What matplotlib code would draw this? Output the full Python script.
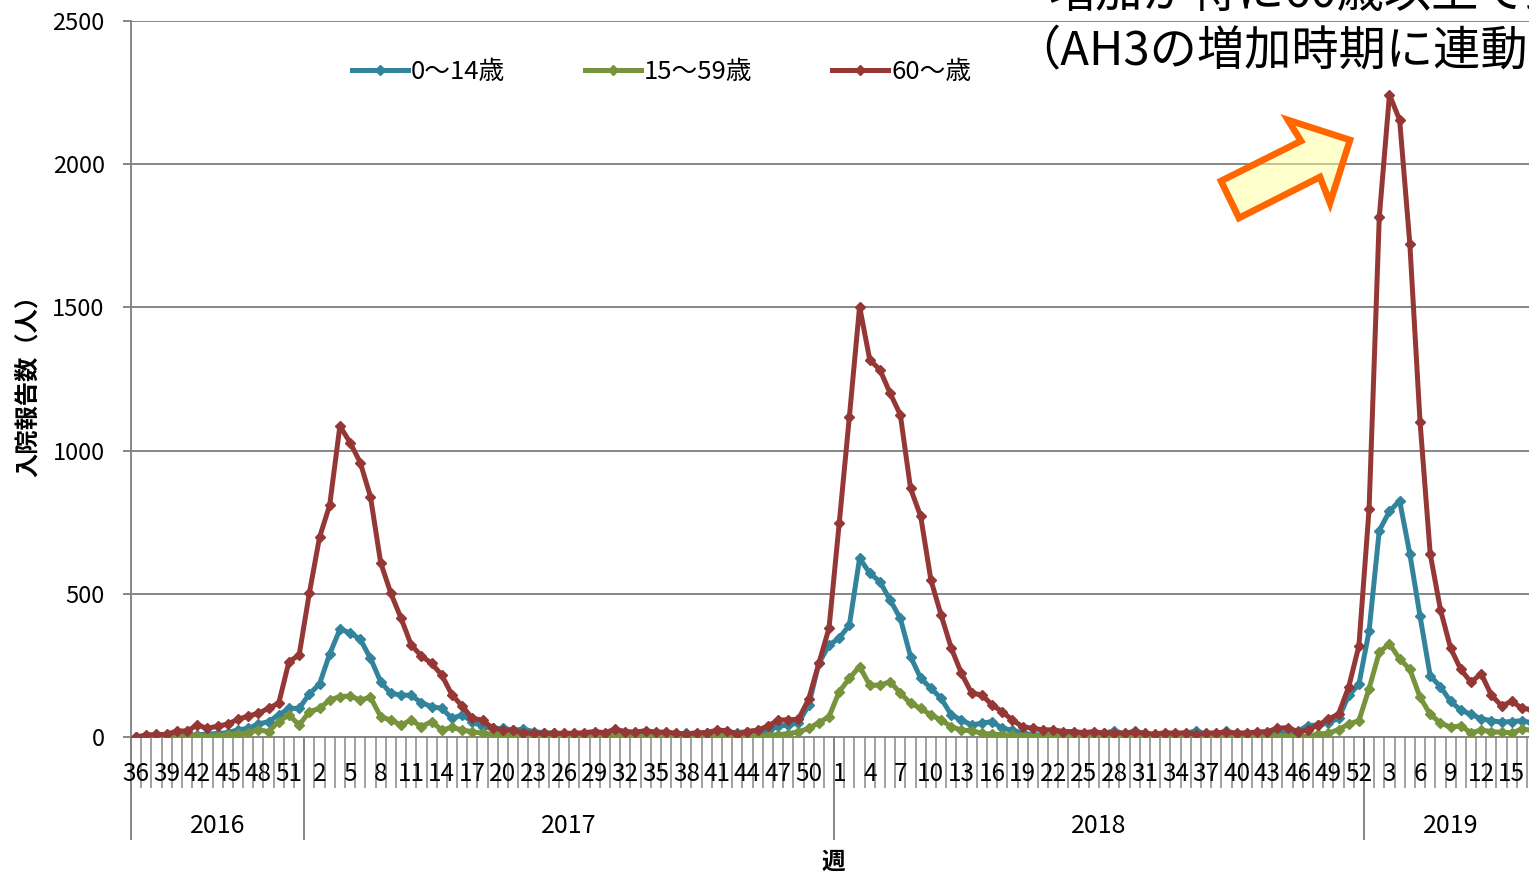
import matplotlib
matplotlib.use("Agg")
import matplotlib.pyplot as plt
from matplotlib.patches import Polygon

plt.rcParams['font.family'] = ['Noto Sans CJK JP', 'DejaVu Sans']

# weeks shown: 2016 wk36 .. 2019 wk17
YEARS = [2016, 2017, 2018, 2019]
WEEKS_2016 = list(range(36, 53))
WEEKS_2017 = list(range(1, 53))
WEEKS_2018 = list(range(1, 53))
WEEKS_2019 = list(range(1, 18))

# 0~14 years
age_0_14 = [
    0, 2, 3, 3, 5, 5, 8, 10, 12, 15, 25, 30, 45, 54, 77, 100, 100,
    150, 185, 290, 376, 364, 341, 275, 193, 152, 147,
    145, 120, 106, 100, 65, 77, 54, 36, 30, 30,
    24, 27, 19, 15, 13, 10, 12, 10, 13, 10,
    15, 12, 10, 13, 10, 12, 10, 13, 12, 15,
    13, 17, 15, 19, 22, 20, 38, 42, 50, 110,
    257, 321,
    345, 391, 624, 572, 542, 478, 414, 281, 205, 170,
    135, 77, 59, 42, 48, 54, 30, 24, 13, 8,
    7, 7, 10, 8, 10, 8, 13, 22, 10, 22,
    10, 8, 10, 8, 12, 22, 10, 12, 20, 12,
    10, 10, 12, 15, 15, 20, 40, 42, 50, 65,
    145, 184,
    370, 721, 788, 825, 639, 422, 213, 176, 124, 94, 79, 64, 57, 52, 54, 57, 49,
]

# 15~59 years
age_15_59 = [
    0, 0, 2, 0, 3, 2, 3, 5, 5, 8, 10, 15, 25, 19, 54, 77, 42,
    88, 100, 129, 141, 143, 129, 139, 71, 59, 42,
    59, 36, 54, 24, 34, 24, 19, 13, 10, 8,
    7, 6, 5, 5, 4, 5, 3, 5, 4, 3,
    5, 4, 3, 5, 4, 3, 5, 4, 3, 5,
    4, 5, 4, 6, 5, 5, 8, 12, 18, 30,
    50, 71,
    158, 205, 246, 181, 181, 193, 153, 118, 100, 77,
    59, 36, 24, 22, 13, 10, 8, 7, 5, 5,
    4, 3, 4, 3, 5, 3, 4, 3, 5, 3,
    4, 3, 5, 3, 4, 5, 3, 4, 3, 5,
    4, 3, 5, 4, 3, 3, 2, 10, 13, 26,
    45, 57,
    169, 296, 325, 273, 236, 139, 79, 49, 34, 39, 15, 24, 19, 16, 15, 27, 24,
]

# 60~ years
age_60_up = [
    0, 7, 9, 9, 21, 21, 42, 30, 38, 45, 62, 73, 83, 100, 118, 263, 286,
    502, 697, 810, 1086, 1028, 958, 839, 609, 502, 415,
    321, 283, 257, 216, 147, 108, 65, 59, 30, 24,
    24, 15, 13, 13, 13, 13, 13, 15, 19, 15,
    27, 19, 17, 22, 17, 17, 13, 10, 15, 15,
    24, 22, 10, 19, 24, 38, 59, 60, 62, 132,
    257, 380,
    746, 1119, 1503, 1317, 1282, 1200, 1125, 868, 770, 548,
    426, 310, 222, 153, 147, 112, 88, 59, 36, 30,
    25, 25, 19, 19, 15, 19, 13, 15, 13, 17,
    13, 10, 15, 13, 15, 10, 13, 15, 17, 13,
    15, 17, 19, 30, 33, 19, 24, 42, 62, 80,
    175, 318,
    796, 1815, 2243, 2154, 1721, 1101, 639, 445, 310, 236, 191, 221, 146, 109, 124, 101, 95,
]

SERIES_LABELS = ['0〜14歳', '15〜59歳', '60〜歳']
SERIES_COLORS = ['#31849B', '#77933C', '#953735']
GRAY = '#868686'

W, H = 1529, 875
fig = plt.figure(figsize=(W / 100, H / 100), dpi=100)
fig.patch.set_facecolor('white')

weeks = WEEKS_2016 + WEEKS_2017 + WEEKS_2018 + WEEKS_2019
year_sizes = [len(WEEKS_2016), len(WEEKS_2017), len(WEEKS_2018), len(WEEKS_2019)]
n = len(weeks)
x = list(range(n))

# axes runs a little past the right edge of the picture (cropped slide)
cat_px = 10.19
ax_left, ax_top, ax_bottom = 131, 21, 737
ax = fig.add_axes([ax_left / W, (H - ax_bottom) / H,
                   n * cat_px / W, (ax_bottom - ax_top) / H])
ax.patch.set_visible(False)

for vals, lab, col in zip([age_0_14, age_15_59, age_60_up], SERIES_LABELS, SERIES_COLORS):
    ax.plot(x, vals, color=col, lw=3.6, marker='D', ms=4.8, mec=col, mfc=col,
            label=lab, solid_joinstyle='round', zorder=3)

ax.set_xlim(-0.5, n - 0.5)
ax.set_ylim(0, 2500)
ax.set_yticks(range(0, 2501, 500))
ax.yaxis.grid(True, color=GRAY, lw=1.4)
ax.set_axisbelow(True)
ax.tick_params(axis='y', length=6, width=1.4, color=GRAY, pad=13, labelsize=17)

for s in ['top', 'right']:
    ax.spines[s].set_visible(False)
for s in ['left', 'bottom']:
    ax.spines[s].set_color(GRAY)
    ax.spines[s].set_linewidth(1.4)

# category ticks between weeks
ax.set_xticks([i - 0.5 for i in range(n + 1)])
ax.set_xticklabels([])
ax.tick_params(axis='x', length=37, width=1.1, color=GRAY, direction='out')

# week labels every third week
for i in range(0, n, 3):
    ax.annotate(str(weeks[i]), xy=(i, 0), xycoords=('data', 'axes fraction'),
                xytext=(0, -37), textcoords='offset pixels',
                ha='center', va='center', fontsize=17.5, annotation_clip=False)

# year groups
edges = [-0.5]
for s in year_sizes:
    edges.append(edges[-1] + s)
ax.vlines(edges, 0, -103 / (ax_bottom - ax_top), transform=ax.get_xaxis_transform(),
          colors=GRAY, lw=1.4, clip_on=False)
for k, yr in enumerate(YEARS):
    mid = (edges[k] + edges[k + 1]) / 2
    ax.annotate(str(yr), xy=(mid, 0), xycoords=('data', 'axes fraction'),
                xytext=(0, -89), textcoords='offset pixels',
                ha='center', va='center', fontsize=18, annotation_clip=False)

fig.text(833 / W, 1 - 862 / H, '週', ha='center', va='center', fontsize=17, fontweight='bold')
fig.text(28 / W, 1 - 380 / H, '入院報告数（人）', ha='center', va='center',
         rotation=90, fontsize=17.5, fontweight='bold')

leg = ax.legend(loc='center left', bbox_to_anchor=(352 / W, 1 - 72 / H),
                bbox_transform=fig.transFigure, ncol=3, frameon=False,
                fontsize=18.5, handlelength=2.18, handletextpad=0.12,
                columnspacing=3.1, borderpad=0, borderaxespad=0)

# callout arrow
arrow_px = [(1221, 181), (1301, 141), (1288, 120), (1350, 140),
            (1330, 203), (1320, 177), (1239, 218)]
arrow = Polygon([(px / W, 1 - py / H) for px, py in arrow_px], closed=True,
                transform=fig.transFigure, facecolor=(1, 1, 0.6, 0.5),
                edgecolor='#FF6600', lw=4.8, joinstyle='miter', zorder=5)
fig.patches.append(arrow)

# callout text (the slide is cropped at the top and right)
fig.text(1048 / W, 1 - 7 / H, '増加が特に60歳以上で顕著', ha='left', va='baseline', fontsize=34)
fig.text(1013 / W, 1 - 64 / H, '（AH3の増加時期に連動', ha='left', va='baseline', fontsize=34)

fig.savefig('out.png', dpi=100)
